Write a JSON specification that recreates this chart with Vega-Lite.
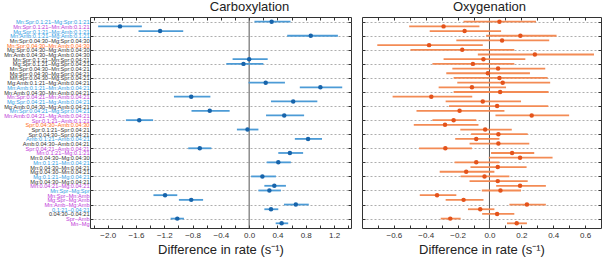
{
  "$schema": "https://vega.github.io/schema/vega-lite/v6.json",
  "padding": {"left": 3, "top": 0, "right": 2, "bottom": 0},
  "background": "white",
  "spacing": 9,
  "config": {
    "font": "Liberation Sans",
    "view": {"stroke": "#333333", "strokeWidth": 1},
    "axis": {"domain": false, "labelFont": "Liberation Sans", "titleFont": "Liberation Sans", "minExtent": 0}
  },
  "datasets": {
    "d": [
      {"c": "Mn:Spr:0.1:21−Mg:Spr:0.1:21", "p": "C", "e": 0.318, "l": 0.075, "h": 0.585},
      {"c": "Mn:Spr:0.1:21−Mn:Amb:0.1:21", "p": "C", "e": -1.826, "l": -2.135, "h": -1.517},
      {"c": "Mg:Spr:0.1:21−Mg:Amb:0.1:21", "p": "C", "e": -1.259, "l": -1.564, "h": -0.932},
      {"c": "Mn:Amb:0.1:21−Mg:Amb:0.1:21", "p": "C", "e": 0.871, "l": 0.538, "h": 1.255},
      {"c": "Mn:Spr:0.1:21−Mn:Spr:0.04:21", "p": "C", "e": 0.0, "l": -0.234, "h": 0.262},
      {"c": "Mg:Spr:0.1:21−Mg:Spr:0.04:21", "p": "C", "e": -0.08, "l": -0.323, "h": 0.201},
      {"c": "Mg:Amb:0.1:21−Mg:Amb:0.04:21", "p": "C", "e": 0.234, "l": -0.009, "h": 0.506},
      {"c": "Mn:Amb:0.1:21−Mn:Amb:0.04:21", "p": "C", "e": 1.007, "l": 0.716, "h": 1.316},
      {"c": "Mn:Spr:0.04:21−Mn:Amb:0.04:21", "p": "C", "e": -0.819, "l": -1.063, "h": -0.548},
      {"c": "Mg:Spr:0.04:21−Mg:Amb:0.04:21", "p": "C", "e": 0.623, "l": 0.309, "h": 0.964},
      {"c": "Mn:Spr:0.04:21−Mg:Spr:0.04:21", "p": "C", "e": -0.557, "l": -0.815, "h": -0.276},
      {"c": "Mn:Amb:0.04:21−Mg:Amb:0.04:21", "p": "C", "e": 0.496, "l": 0.239, "h": 0.777},
      {"c": "Spr:0.1:21−Amb:0.1:21", "p": "C", "e": -1.554, "l": -1.742, "h": -1.358},
      {"c": "Spr:0.1:21−Spr:0.04:21", "p": "C", "e": -0.023, "l": -0.173, "h": 0.131},
      {"c": "Amb:0.1:21−Amb:0.04:21", "p": "C", "e": 0.833, "l": 0.646, "h": 1.03},
      {"c": "Spr:0.04:21−Amb:0.04:21", "p": "C", "e": -0.698, "l": -0.861, "h": -0.534},
      {"c": "Mn:0.1:21−Mg:0.1:21", "p": "C", "e": 0.576, "l": 0.412, "h": 0.763},
      {"c": "Mn:0.1:21−Mn:0.04:21", "p": "C", "e": 0.412, "l": 0.248, "h": 0.59},
      {"c": "Mg:0.1:21−Mg:0.04:21", "p": "C", "e": 0.187, "l": 0.028, "h": 0.379},
      {"c": "Mn:0.04:21−Mg:0.04:21", "p": "C", "e": 0.356, "l": 0.215, "h": 0.52},
      {"c": "Mn:Spr−Mg:Spr", "p": "C", "e": 0.286, "l": 0.131, "h": 0.449},
      {"c": "Mn:Spr−Mn:Amb", "p": "C", "e": -1.189, "l": -1.353, "h": -1.016},
      {"c": "Mg:Spr−Mg:Amb", "p": "C", "e": -0.819, "l": -0.993, "h": -0.651},
      {"c": "Mn:Amb−Mg:Amb", "p": "C", "e": 0.66, "l": 0.492, "h": 0.843},
      {"c": "0.1:21−0.04:21", "p": "C", "e": 0.309, "l": 0.215, "h": 0.412},
      {"c": "Spr−Amb", "p": "C", "e": -1.016, "l": -1.11, "h": -0.922},
      {"c": "Mn−Mg", "p": "C", "e": 0.459, "l": 0.375, "h": 0.552},
      {"c": "Mn:Spr:0.1:21−Mg:Spr:0.1:21", "p": "O", "e": 0.0625, "l": -0.163, "h": 0.292},
      {"c": "Mn:Spr:0.1:21−Mn:Amb:0.1:21", "p": "O", "e": -0.288, "l": -0.504, "h": -0.063},
      {"c": "Mg:Spr:0.1:21−Mg:Amb:0.1:21", "p": "O", "e": -0.156, "l": -0.375, "h": 0.073},
      {"c": "Mn:Amb:0.1:21−Mg:Amb:0.1:21", "p": "O", "e": 0.194, "l": -0.021, "h": 0.421},
      {"c": "Mn:Spr:0.04:30−Mg:Spr:0.04:30", "p": "O", "e": 0.079, "l": -0.208, "h": 0.375},
      {"c": "Mn:Spr:0.04:30−Mn:Amb:0.04:30", "p": "O", "e": -0.379, "l": -0.704, "h": -0.042},
      {"c": "Mg:Spr:0.04:30−Mg:Amb:0.04:30", "p": "O", "e": -0.171, "l": -0.496, "h": 0.156},
      {"c": "Mn:Amb:0.04:30−Mg:Amb:0.04:30", "p": "O", "e": 0.285, "l": -0.073, "h": 0.656},
      {"c": "Mn:Spr:0.1:21−Mn:Spr:0.04:21", "p": "O", "e": -0.038, "l": -0.288, "h": 0.225},
      {"c": "Mg:Spr:0.1:21−Mg:Spr:0.04:21", "p": "O", "e": -0.104, "l": -0.358, "h": 0.156},
      {"c": "Mn:Spr:0.04:30−Mn:Spr:0.04:21", "p": "O", "e": 0.054, "l": -0.233, "h": 0.35},
      {"c": "Mg:Spr:0.04:30−Mg:Spr:0.04:21", "p": "O", "e": -0.01, "l": -0.271, "h": 0.254},
      {"c": "Mn:Spr:0.04:30−Mg:Spr:0.04:21", "p": "O", "e": 0.0625, "l": -0.225, "h": 0.365},
      {"c": "Mg:Amb:0.1:21−Mg:Amb:0.04:21", "p": "O", "e": 0.083, "l": -0.202, "h": 0.381},
      {"c": "Mn:Amb:0.1:21−Mn:Amb:0.04:21", "p": "O", "e": -0.11, "l": -0.319, "h": 0.104},
      {"c": "Mn:Amb:0.04:30−Mn:Amb:0.04:21", "p": "O", "e": 0.067, "l": -0.225, "h": 0.371},
      {"c": "Mn:Spr:0.04:21−Mn:Amb:0.04:21", "p": "O", "e": -0.365, "l": -0.608, "h": -0.108},
      {"c": "Mg:Spr:0.04:21−Mg:Amb:0.04:21", "p": "O", "e": -0.042, "l": -0.275, "h": 0.198},
      {"c": "Mg:Amb:0.04:30−Mg:Amb:0.04:21", "p": "O", "e": 0.048, "l": -0.254, "h": 0.369},
      {"c": "Mn:Spr:0.04:21−Mg:Spr:0.04:21", "p": "O", "e": -0.1875, "l": -0.458, "h": 0.094},
      {"c": "Mn:Amb:0.04:21−Mg:Amb:0.04:21", "p": "O", "e": 0.265, "l": 0.0375, "h": 0.5},
      {"c": "Spr:0.1:21−Amb:0.1:21", "p": "O", "e": -0.225, "l": -0.358, "h": -0.083},
      {"c": "Spr:0.04:30−Amb:0.04:30", "p": "O", "e": -0.279, "l": -0.475, "h": -0.069},
      {"c": "Spr:0.1:21−Spr:0.04:21", "p": "O", "e": -0.027, "l": -0.183, "h": 0.14},
      {"c": "Spr:0.04:30−Spr:0.04:21", "p": "O", "e": 0.056, "l": -0.115, "h": 0.24},
      {"c": "Amb:0.1:21−Amb:0.04:21", "p": "O", "e": -0.083, "l": -0.215, "h": 0.0625},
      {"c": "Amb:0.04:30−Amb:0.04:21", "p": "O", "e": 0.056, "l": -0.125, "h": 0.25},
      {"c": "Spr:0.04:21−Amb:0.04:21", "p": "O", "e": -0.277, "l": -0.442, "h": -0.11},
      {"c": "Mn:0.1:21−Mg:0.1:21", "p": "O", "e": 0.142, "l": 0.01, "h": 0.281},
      {"c": "Mn:0.04:30−Mg:0.04:30", "p": "O", "e": 0.192, "l": -0.004, "h": 0.396},
      {"c": "Mn:0.1:21−Mn:0.04:21", "p": "O", "e": -0.083, "l": -0.219, "h": 0.0625},
      {"c": "Mn:0.04:30−Mn:0.04:21", "p": "O", "e": 0.052, "l": -0.119, "h": 0.233},
      {"c": "Mg:0.04:30−Mn:0.04:21", "p": "O", "e": -0.146, "l": -0.3125, "h": 0.031},
      {"c": "Mg:0.1:21−Mg:0.04:21", "p": "O", "e": -0.031, "l": -0.181, "h": 0.125},
      {"c": "Mg:0.04:30−Mg:0.04:21", "p": "O", "e": 0.052, "l": -0.125, "h": 0.24},
      {"c": "Mn:0.04:21−Mg:0.04:21", "p": "O", "e": 0.192, "l": 0.042, "h": 0.354},
      {"c": "Mn:Spr−Mg:Spr", "p": "O", "e": 0.069, "l": -0.048, "h": 0.198},
      {"c": "Mn:Spr−Mn:Amb", "p": "O", "e": -0.329, "l": -0.4375, "h": -0.208},
      {"c": "Mg:Spr−Mg:Amb", "p": "O", "e": -0.1625, "l": -0.275, "h": -0.0375},
      {"c": "Mn:Amb−Mg:Amb", "p": "O", "e": 0.235, "l": 0.125, "h": 0.354},
      {"c": "0.1:21−0.04:21", "p": "O", "e": -0.058, "l": -0.135, "h": 0.031},
      {"c": "0.04:30−0.04:21", "p": "O", "e": 0.048, "l": -0.046, "h": 0.156},
      {"c": "Spr−Amb", "p": "O", "e": -0.246, "l": -0.306, "h": -0.181},
      {"c": "Mn−Mg", "p": "O", "e": 0.171, "l": 0.11, "h": 0.235}
    ]
  },
  "hconcat": [
    {
      "width": 261,
      "height": 211,
      "title": {"text": "Carboxylation", "fontSize": 13, "fontWeight": "normal", "color": "#222222", "frame": "group", "dx": 29, "offset": 3},
      "layer": [
        {
          "data": {"values": [{}]},
          "mark": {"type": "rule", "color": "#555555", "strokeWidth": 1},
          "encoding": {"x": {"datum": 0, "type": "quantitative", "axis": null}}
        },
        {
          "data": {"name": "d"},
          "transform": [{"filter": "datum.p == 'C'"}],
          "mark": {"type": "rule", "color": "#4c9bd6", "strokeWidth": 1.8},
          "encoding": {
            "y": {
              "field": "c", "type": "nominal", "sort": null,
              "scale": {"type": "point", "padding": 1, "domain": ["Mn:Spr:0.1:21−Mg:Spr:0.1:21","Mn:Spr:0.1:21−Mn:Amb:0.1:21","Mg:Spr:0.1:21−Mg:Amb:0.1:21","Mn:Amb:0.1:21−Mg:Amb:0.1:21","Mn:Spr:0.04:30−Mg:Spr:0.04:30","Mn:Spr:0.04:30−Mn:Amb:0.04:30","Mg:Spr:0.04:30−Mg:Amb:0.04:30","Mn:Amb:0.04:30−Mg:Amb:0.04:30","Mn:Spr:0.1:21−Mn:Spr:0.04:21","Mg:Spr:0.1:21−Mg:Spr:0.04:21","Mn:Spr:0.04:30−Mn:Spr:0.04:21","Mg:Spr:0.04:30−Mg:Spr:0.04:21","Mn:Spr:0.04:30−Mg:Spr:0.04:21","Mg:Amb:0.1:21−Mg:Amb:0.04:21","Mn:Amb:0.1:21−Mn:Amb:0.04:21","Mn:Amb:0.04:30−Mn:Amb:0.04:21","Mn:Spr:0.04:21−Mn:Amb:0.04:21","Mg:Spr:0.04:21−Mg:Amb:0.04:21","Mg:Amb:0.04:30−Mg:Amb:0.04:21","Mn:Spr:0.04:21−Mg:Spr:0.04:21","Mn:Amb:0.04:21−Mg:Amb:0.04:21","Spr:0.1:21−Amb:0.1:21","Spr:0.04:30−Amb:0.04:30","Spr:0.1:21−Spr:0.04:21","Spr:0.04:30−Spr:0.04:21","Amb:0.1:21−Amb:0.04:21","Amb:0.04:30−Amb:0.04:21","Spr:0.04:21−Amb:0.04:21","Mn:0.1:21−Mg:0.1:21","Mn:0.04:30−Mg:0.04:30","Mn:0.1:21−Mn:0.04:21","Mn:0.04:30−Mn:0.04:21","Mg:0.04:30−Mn:0.04:21","Mg:0.1:21−Mg:0.04:21","Mg:0.04:30−Mg:0.04:21","Mn:0.04:21−Mg:0.04:21","Mn:Spr−Mg:Spr","Mn:Spr−Mn:Amb","Mg:Spr−Mg:Amb","Mn:Amb−Mg:Amb","0.1:21−0.04:21","0.04:30−0.04:21","Spr−Amb","Mn−Mg"]},
              "axis": {
                "orient": "left", "title": null, "labelFontSize": 5.6, "labelPadding": 4, "labelOverlap": false, "labelLimit": 300,
                "tickSize": -3, "tickColor": "#333333",
                "tickOpacity": {"condition": {"test": "indexof(['Mn:Spr:0.1:21−Mg:Spr:0.1:21','Mn:Amb:0.1:21−Mg:Amb:0.1:21','Mg:Spr:0.04:30−Mg:Amb:0.04:30','Mg:Spr:0.1:21−Mg:Spr:0.04:21','Mn:Spr:0.04:30−Mg:Spr:0.04:21','Mn:Amb:0.04:30−Mn:Amb:0.04:21','Mg:Amb:0.04:30−Mg:Amb:0.04:21','Spr:0.1:21−Amb:0.1:21','Spr:0.04:30−Spr:0.04:21','Spr:0.04:21−Amb:0.04:21','Mn:0.1:21−Mn:0.04:21','Mg:0.1:21−Mg:0.04:21','Mn:Spr−Mg:Spr','Mn:Amb−Mg:Amb','Spr−Amb'], datum.value) >= 0", "value": 1}, "value": 0},
                "grid": true, "gridDash": [2, 2], "gridColor": "#999999", "gridWidth": 0.8,
                "gridOpacity": {"condition": {"test": "indexof(['Mn:Spr:0.1:21−Mg:Spr:0.1:21','Mn:Amb:0.1:21−Mg:Amb:0.1:21','Mg:Spr:0.04:30−Mg:Amb:0.04:30','Mg:Spr:0.1:21−Mg:Spr:0.04:21','Mn:Spr:0.04:30−Mg:Spr:0.04:21','Mn:Amb:0.04:30−Mn:Amb:0.04:21','Mg:Amb:0.04:30−Mg:Amb:0.04:21','Spr:0.1:21−Amb:0.1:21','Spr:0.04:30−Spr:0.04:21','Spr:0.04:21−Amb:0.04:21','Mn:0.1:21−Mn:0.04:21','Mg:0.1:21−Mg:0.04:21','Mn:Spr−Mg:Spr','Mn:Amb−Mg:Amb','Spr−Amb'], datum.value) >= 0", "value": 1}, "value": 0},
                "labelColor": {"condition": [
                  {"test": "indexof(['Mn:Spr:0.1:21−Mg:Spr:0.1:21','Mg:Spr:0.1:21−Mg:Amb:0.1:21','Mn:Amb:0.1:21−Mg:Amb:0.1:21','Mn:Amb:0.1:21−Mn:Amb:0.04:21','Mg:Spr:0.04:21−Mg:Amb:0.04:21','Mn:Spr:0.04:21−Mg:Spr:0.04:21','Amb:0.1:21−Amb:0.04:21','Mn:0.1:21−Mn:0.04:21','Mg:0.1:21−Mg:0.04:21','Mn:Spr−Mg:Spr','0.1:21−0.04:21'], datum.value) >= 0", "value": "#2f9be3"},
                  {"test": "indexof(['Mn:Spr:0.1:21−Mn:Amb:0.1:21','Mn:Spr:0.04:21−Mn:Amb:0.04:21','Mn:Amb:0.04:21−Mg:Amb:0.04:21','Spr:0.1:21−Amb:0.1:21','Spr:0.04:21−Amb:0.04:21','Mn:0.1:21−Mg:0.1:21','Mn:0.04:21−Mg:0.04:21','Mn:Spr−Mn:Amb','Mg:Spr−Mg:Amb','Mn:Amb−Mg:Amb','Spr−Amb','Mn−Mg'], datum.value) >= 0", "value": "#c03ad8"},
                  {"test": "indexof(['Mn:Spr:0.04:30−Mn:Amb:0.04:30','Spr:0.04:30−Amb:0.04:30'], datum.value) >= 0", "value": "#ff6a1a"}
                ], "value": "#333333"}
              }
            },
            "x": {
              "field": "l", "type": "quantitative",
              "scale": {"domain": [-2.25, 1.44], "nice": false, "zero": false},
              "axis": {
                "orient": "bottom", "title": "Difference in rate (s⁻¹)", "titleFontSize": 13, "titleFontWeight": "normal", "titleColor": "#222222", "titlePadding": 4,
                "values": [-2.2, -2, -1.8, -1.6, -1.4, -1.2, -1, -0.8, -0.6, -0.4, -0.2, 0, 0.2, 0.4, 0.6, 0.8, 1, 1.2, 1.4],
                "labelExpr": "round(datum.value * 10) % 4 == 0 ? format(datum.value, '.1f') : ''",
                "labelFontSize": 8, "labelColor": "#333333", "labelPadding": 6, "labelFlush": false,
                "tickSize": -3, "tickColor": "#333333", "grid": false
              }
            },
            "x2": {"field": "h"}
          }
        },
        {
          "data": {"name": "d"},
          "transform": [{"filter": "datum.p == 'C'"}],
          "mark": {"type": "point", "filled": true, "size": 20, "color": "#1764ab", "opacity": 1},
          "encoding": {
            "y": {
              "field": "c", "type": "nominal", "sort": null,
              "axis": {
                "orient": "right", "title": null, "labels": false, "grid": false, "tickSize": -3, "tickColor": "#333333",
                "tickOpacity": {"condition": {"test": "indexof(['Mn:Spr:0.1:21−Mg:Spr:0.1:21','Mn:Amb:0.1:21−Mg:Amb:0.1:21','Mg:Spr:0.04:30−Mg:Amb:0.04:30','Mg:Spr:0.1:21−Mg:Spr:0.04:21','Mn:Spr:0.04:30−Mg:Spr:0.04:21','Mn:Amb:0.04:30−Mn:Amb:0.04:21','Mg:Amb:0.04:30−Mg:Amb:0.04:21','Spr:0.1:21−Amb:0.1:21','Spr:0.04:30−Spr:0.04:21','Spr:0.04:21−Amb:0.04:21','Mn:0.1:21−Mn:0.04:21','Mg:0.1:21−Mg:0.04:21','Mn:Spr−Mg:Spr','Mn:Amb−Mg:Amb','Spr−Amb'], datum.value) >= 0", "value": 1}, "value": 0}
              }
            },
            "x": {
              "field": "e", "type": "quantitative",
              "axis": {
                "orient": "top", "title": null, "labels": false, "grid": false,
                "values": [-2.2, -2, -1.8, -1.6, -1.4, -1.2, -1, -0.8, -0.6, -0.4, -0.2, 0, 0.2, 0.4, 0.6, 0.8, 1, 1.2, 1.4],
                "tickSize": -3, "tickColor": "#333333"
              }
            }
          }
        }
      ],
      "resolve": {"axis": {"x": "independent", "y": "independent"}}
    },
    {
      "width": 239,
      "height": 211,
      "title": {"text": "Oxygenation", "fontSize": 13, "fontWeight": "normal", "color": "#222222", "frame": "group", "dx": 8, "offset": 3},
      "layer": [
        {
          "data": {"values": [{}]},
          "mark": {"type": "rule", "color": "#555555", "strokeWidth": 1},
          "encoding": {"x": {"datum": 0, "type": "quantitative", "axis": null}}
        },
        {
          "data": {"name": "d"},
          "transform": [{"filter": "datum.p == 'O'"}],
          "mark": {"type": "rule", "color": "#f38b55", "strokeWidth": 1.8},
          "encoding": {
            "y": {
              "field": "c", "type": "nominal", "sort": null,
              "scale": {"type": "point", "padding": 1, "domain": ["Mn:Spr:0.1:21−Mg:Spr:0.1:21","Mn:Spr:0.1:21−Mn:Amb:0.1:21","Mg:Spr:0.1:21−Mg:Amb:0.1:21","Mn:Amb:0.1:21−Mg:Amb:0.1:21","Mn:Spr:0.04:30−Mg:Spr:0.04:30","Mn:Spr:0.04:30−Mn:Amb:0.04:30","Mg:Spr:0.04:30−Mg:Amb:0.04:30","Mn:Amb:0.04:30−Mg:Amb:0.04:30","Mn:Spr:0.1:21−Mn:Spr:0.04:21","Mg:Spr:0.1:21−Mg:Spr:0.04:21","Mn:Spr:0.04:30−Mn:Spr:0.04:21","Mg:Spr:0.04:30−Mg:Spr:0.04:21","Mn:Spr:0.04:30−Mg:Spr:0.04:21","Mg:Amb:0.1:21−Mg:Amb:0.04:21","Mn:Amb:0.1:21−Mn:Amb:0.04:21","Mn:Amb:0.04:30−Mn:Amb:0.04:21","Mn:Spr:0.04:21−Mn:Amb:0.04:21","Mg:Spr:0.04:21−Mg:Amb:0.04:21","Mg:Amb:0.04:30−Mg:Amb:0.04:21","Mn:Spr:0.04:21−Mg:Spr:0.04:21","Mn:Amb:0.04:21−Mg:Amb:0.04:21","Spr:0.1:21−Amb:0.1:21","Spr:0.04:30−Amb:0.04:30","Spr:0.1:21−Spr:0.04:21","Spr:0.04:30−Spr:0.04:21","Amb:0.1:21−Amb:0.04:21","Amb:0.04:30−Amb:0.04:21","Spr:0.04:21−Amb:0.04:21","Mn:0.1:21−Mg:0.1:21","Mn:0.04:30−Mg:0.04:30","Mn:0.1:21−Mn:0.04:21","Mn:0.04:30−Mn:0.04:21","Mg:0.04:30−Mn:0.04:21","Mg:0.1:21−Mg:0.04:21","Mg:0.04:30−Mg:0.04:21","Mn:0.04:21−Mg:0.04:21","Mn:Spr−Mg:Spr","Mn:Spr−Mn:Amb","Mg:Spr−Mg:Amb","Mn:Amb−Mg:Amb","0.1:21−0.04:21","0.04:30−0.04:21","Spr−Amb","Mn−Mg"]},
              "axis": {
                "orient": "left", "title": null, "labels": false,
                "tickSize": -3, "tickColor": "#333333",
                "tickOpacity": {"condition": {"test": "indexof(['Mn:Spr:0.1:21−Mg:Spr:0.1:21','Mn:Amb:0.1:21−Mg:Amb:0.1:21','Mg:Spr:0.04:30−Mg:Amb:0.04:30','Mg:Spr:0.1:21−Mg:Spr:0.04:21','Mn:Spr:0.04:30−Mg:Spr:0.04:21','Mn:Amb:0.04:30−Mn:Amb:0.04:21','Mg:Amb:0.04:30−Mg:Amb:0.04:21','Spr:0.1:21−Amb:0.1:21','Spr:0.04:30−Spr:0.04:21','Spr:0.04:21−Amb:0.04:21','Mn:0.1:21−Mn:0.04:21','Mg:0.1:21−Mg:0.04:21','Mn:Spr−Mg:Spr','Mn:Amb−Mg:Amb','Spr−Amb'], datum.value) >= 0", "value": 1}, "value": 0},
                "grid": true, "gridDash": [2, 2], "gridColor": "#999999", "gridWidth": 0.8,
                "gridOpacity": {"condition": {"test": "indexof(['Mn:Spr:0.1:21−Mg:Spr:0.1:21','Mn:Amb:0.1:21−Mg:Amb:0.1:21','Mg:Spr:0.04:30−Mg:Amb:0.04:30','Mg:Spr:0.1:21−Mg:Spr:0.04:21','Mn:Spr:0.04:30−Mg:Spr:0.04:21','Mn:Amb:0.04:30−Mn:Amb:0.04:21','Mg:Amb:0.04:30−Mg:Amb:0.04:21','Spr:0.1:21−Amb:0.1:21','Spr:0.04:30−Spr:0.04:21','Spr:0.04:21−Amb:0.04:21','Mn:0.1:21−Mn:0.04:21','Mg:0.1:21−Mg:0.04:21','Mn:Spr−Mg:Spr','Mn:Amb−Mg:Amb','Spr−Amb'], datum.value) >= 0", "value": 1}, "value": 0}
              }
            },
            "x": {
              "field": "l", "type": "quantitative",
              "scale": {"domain": [-0.8, 0.7], "nice": false, "zero": false},
              "axis": {
                "orient": "bottom", "title": "Difference in rate (s⁻¹)", "titleFontSize": 13, "titleFontWeight": "normal", "titleColor": "#222222", "titlePadding": 4,
                "values": [-0.7, -0.6, -0.5, -0.4, -0.3, -0.2, -0.1, 0, 0.1, 0.2, 0.3, 0.4, 0.5, 0.6],
                "labelExpr": "round(datum.value * 10) % 2 == 0 ? format(datum.value, '.1f') : ''",
                "labelFontSize": 8, "labelColor": "#333333", "labelPadding": 6, "labelFlush": false,
                "tickSize": -3, "tickColor": "#333333", "grid": false
              }
            },
            "x2": {"field": "h"}
          }
        },
        {
          "data": {"name": "d"},
          "transform": [{"filter": "datum.p == 'O'"}],
          "mark": {"type": "point", "filled": true, "size": 20, "color": "#e4531b", "opacity": 1},
          "encoding": {
            "y": {
              "field": "c", "type": "nominal", "sort": null,
              "axis": {
                "orient": "right", "title": null, "labels": false, "grid": false, "tickSize": -3, "tickColor": "#333333",
                "tickOpacity": {"condition": {"test": "indexof(['Mn:Spr:0.1:21−Mg:Spr:0.1:21','Mn:Amb:0.1:21−Mg:Amb:0.1:21','Mg:Spr:0.04:30−Mg:Amb:0.04:30','Mg:Spr:0.1:21−Mg:Spr:0.04:21','Mn:Spr:0.04:30−Mg:Spr:0.04:21','Mn:Amb:0.04:30−Mn:Amb:0.04:21','Mg:Amb:0.04:30−Mg:Amb:0.04:21','Spr:0.1:21−Amb:0.1:21','Spr:0.04:30−Spr:0.04:21','Spr:0.04:21−Amb:0.04:21','Mn:0.1:21−Mn:0.04:21','Mg:0.1:21−Mg:0.04:21','Mn:Spr−Mg:Spr','Mn:Amb−Mg:Amb','Spr−Amb'], datum.value) >= 0", "value": 1}, "value": 0}
              }
            },
            "x": {
              "field": "e", "type": "quantitative",
              "axis": {
                "orient": "top", "title": null, "labels": false, "grid": false,
                "values": [-0.7, -0.6, -0.5, -0.4, -0.3, -0.2, -0.1, 0, 0.1, 0.2, 0.3, 0.4, 0.5, 0.6],
                "tickSize": -3, "tickColor": "#333333"
              }
            }
          }
        }
      ],
      "resolve": {"axis": {"x": "independent", "y": "independent"}}
    }
  ]
}
